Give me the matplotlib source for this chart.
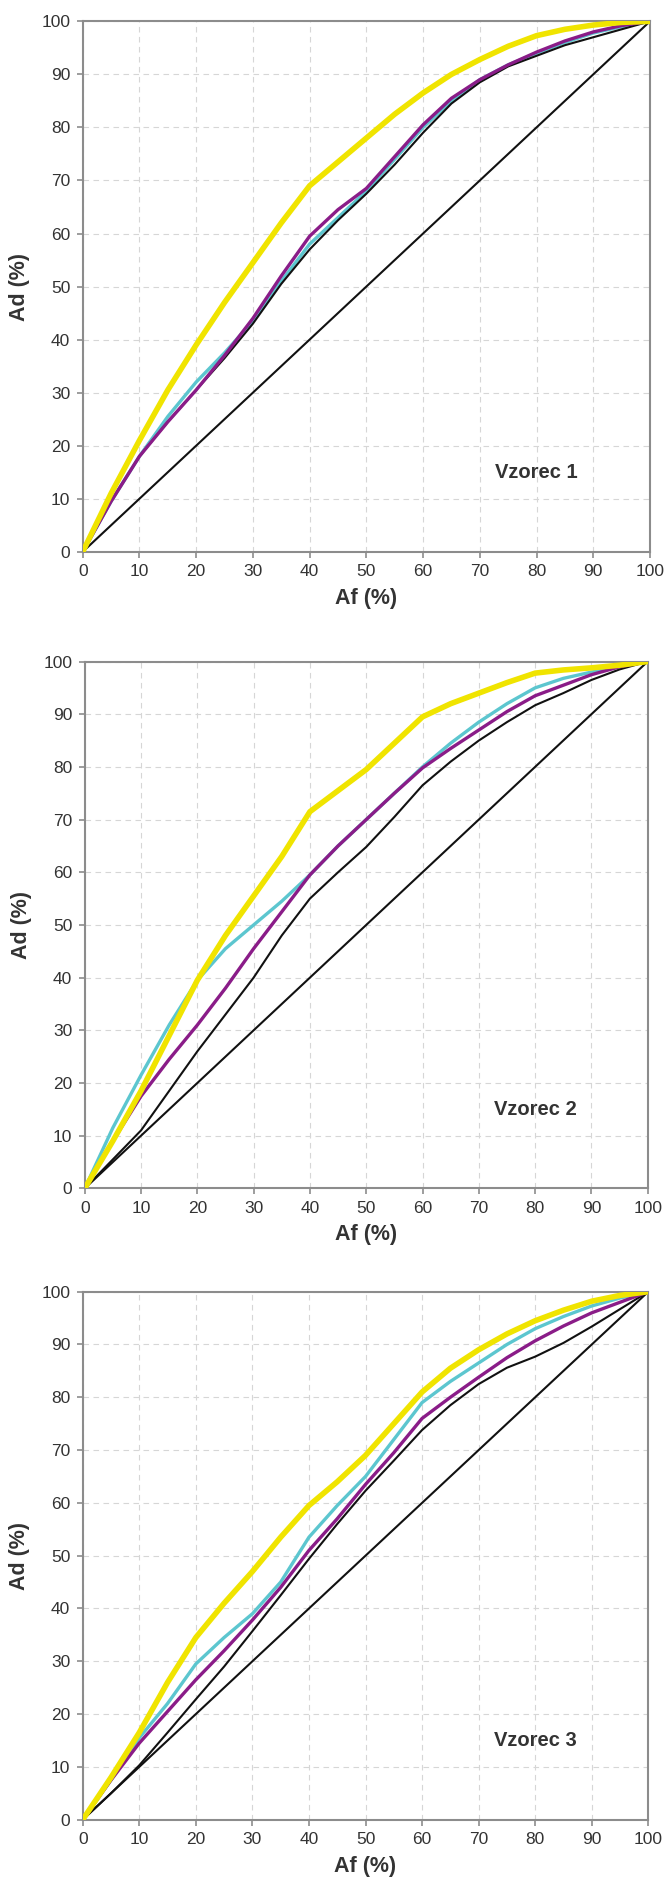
import matplotlib
matplotlib.use('Agg')
import matplotlib.pyplot as plt

plt.rcParams['font.family'] = ['Liberation Sans', 'DejaVu Sans']

# Af (%) - common x values
af = [0, 5, 10, 15, 20, 25, 30, 35, 40, 45, 50, 55, 60, 65, 70, 75, 80, 85, 90, 95, 100]

# Vzorec 1
v1_yellow = [0, 11, 21, 30.5, 39, 47, 54.5, 62, 69, 73.5, 78, 82.5, 86.5, 90, 92.8, 95.3, 97.3, 98.5, 99.3, 99.8, 100]
v1_cyan = [0, 9.5, 18, 25.5, 32, 37.5, 43.5, 51, 58, 63, 68, 74, 80, 85, 89, 91.8, 94, 96, 97.8, 99, 100]
v1_purple = [0, 9.5, 18, 24.5, 30.5, 37, 44, 52, 59.5, 64.5, 68.5, 74.5, 80.5, 85.5, 89, 91.8, 94.2, 96.3, 98, 99.2, 100]
v1_black = [0, 9.5, 18, 24.5, 30.5, 36.5, 43, 50.5, 57, 62.5, 67.5, 73, 79, 84.5, 88.5, 91.5, 93.5, 95.5, 97, 98.5, 100]

# Vzorec 2
v2_yellow = [0, 9, 18.5, 29, 39.5, 48, 55.5, 63, 71.5, 75.5, 79.5, 84.5, 89.5, 92, 94, 96, 97.8, 98.4, 98.8, 99.3, 100]
v2_cyan = [0, 11.5, 21.5, 31, 39.5, 45.5, 50, 54.5, 59.5, 65, 70, 75, 80, 84.5, 88.5, 92, 95, 96.8, 98, 99, 100]
v2_purple = [0, 9, 17.5, 24.5, 31, 38, 45.5, 52.5, 59.5, 65, 70, 75, 79.8, 83.5, 87, 90.5, 93.5, 95.5, 97.5, 99, 100]
v2_black = [0, 5.5, 11, 18.5, 26, 33, 40, 48, 55, 60, 64.8, 70.5, 76.5, 81, 85, 88.5, 91.7, 94, 96.5, 98.5, 100]

# Vzorec 3
v3_yellow = [0, 8, 16.5, 26, 34.5, 41, 47, 53.5, 59.5, 64, 69, 75, 81, 85.5, 89, 92, 94.5, 96.5, 98.2, 99.3, 100]
v3_cyan = [0, 7.5, 15.5, 22, 29.5, 34.5, 39, 45, 53.5, 59.5, 65, 72, 79, 83, 86.5, 90, 93, 95.3, 97.3, 98.8, 100]
v3_purple = [0, 7.5, 14.5, 20.5, 26.5, 32, 37.8, 44, 51, 57, 63.5, 69.5, 76, 80, 83.8, 87.5, 90.7, 93.5, 96, 98, 100]
v3_black = [0, 5, 10.3, 16.5, 22.8, 29, 35.7, 42.5, 49.4, 56, 62.3, 68, 73.8, 78.5, 82.5, 85.6, 87.7, 90.3, 93.4, 96.7, 100]

diagonal = [0, 100]

panels = [
    ('Vzorec 1', v1_yellow, v1_cyan, v1_purple, v1_black, [0.1244, 0.7079, 0.853, 0.2808]),
    ('Vzorec 2', v2_yellow, v2_cyan, v2_purple, v2_black, [0.1274, 0.3709, 0.8466, 0.2789]),
    ('Vzorec 3', v3_yellow, v3_cyan, v3_purple, v3_black, [0.1244, 0.0367, 0.8505, 0.2795]),
]

fig = plt.figure(figsize=(6.65, 18.89), dpi=100)

for name, yel, cya, pur, blk, pos in panels:
    ax = fig.add_axes(pos)
    ax.plot(diagonal, diagonal, color='#111111', lw=1.5, zorder=3)
    ax.plot(af, cya, color='#5cc6cf', lw=2.4, zorder=4)
    ax.plot(af, blk, color='#111111', lw=1.5, zorder=5)
    ax.plot(af, pur, color='#8a1c88', lw=2.4, zorder=6)
    ax.plot(af, yel, color='#f0e400', lw=4.0, zorder=7, solid_capstyle='round')

    ax.set_xlim(0, 100)
    ax.set_ylim(0, 100)
    ax.set_xticks(range(0, 101, 10))
    ax.set_yticks(range(0, 101, 10))
    ax.grid(True, color='#d6d6d6', lw=0.8, linestyle=(0, (5, 4)))
    ax.set_axisbelow(True)

    for sp in ax.spines.values():
        sp.set_color('#8c8c8c')
        sp.set_linewidth(1.5)
    ax.tick_params(direction='out', length=4, width=1.2, color='#8c8c8c',
                   labelsize=12.5, labelcolor='#333333', pad=5)

    ax.set_xlabel('Af (%)', fontsize=15.5, fontweight='bold', color='#333333', labelpad=6)
    ax.set_ylabel('Ad (%)', fontsize=15.5, fontweight='bold', color='#333333', labelpad=8)
    ax.text(80, 15, name, fontsize=14.5, fontweight='bold', color='#333333',
            ha='center', va='center')

fig.savefig('out.png', dpi=100)
